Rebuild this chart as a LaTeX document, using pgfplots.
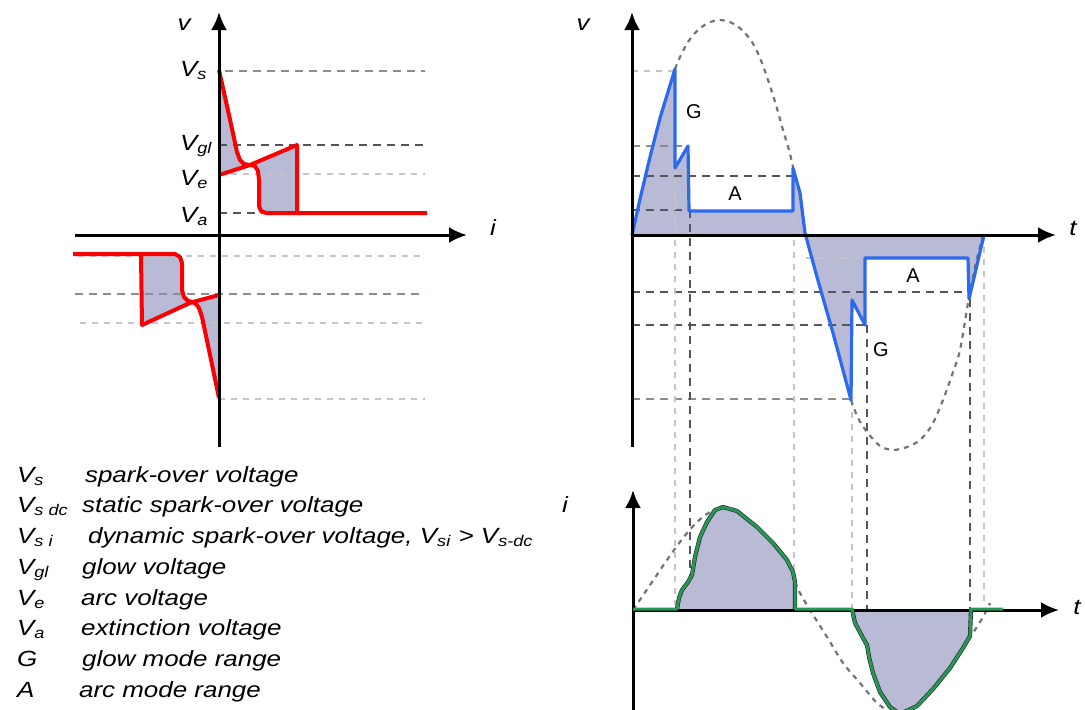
\documentclass[border=0pt]{standalone}
\usepackage{pgfplots}
\pgfplotsset{compat=1.18}
\usetikzlibrary{arrows.meta}
\usepackage{fontspec}
\setmainfont{Liberation Sans}
\newfontfamily\wide[FakeStretch=1.18]{Liberation Sans}

\definecolor{lav}{RGB}{184,186,214}
\definecolor{vred}{RGB}{250,0,0}
\definecolor{vblue}{RGB}{45,105,235}
\definecolor{vgreen}{RGB}{40,150,85}
\definecolor{dk}{RGB}{85,85,95}
\definecolor{md}{RGB}{140,140,150}
\definecolor{lt}{RGB}{195,195,200}
\definecolor{ev}{RGB}{115,115,125}

\tikzset{
  ax/.style={black, line width=1.5pt, -{Latex[length=9pt,width=8pt]}},
  dD/.style={dk, line width=1pt, dash pattern=on 4pt off 3pt},
  dM/.style={md, line width=0.9pt, dash pattern=on 4pt off 3pt},
  dL/.style={lt, line width=0.8pt, dash pattern=on 3pt off 3pt},
  env/.style={ev, line width=1.1pt, dash pattern=on 2.5pt off 2.5pt},
  lab/.style={font=\wide\itshape\fontsize{11pt}{13pt}\selectfont},
  leg/.style={anchor=base west, font=\wide\itshape\fontsize{11pt}{13pt}\selectfont},
}

\begin{document}
\begin{tikzpicture}
\useasboundingbox (0,0) rectangle (542.5pt,-355pt);
\begin{axis}[
  x=0.5pt, y=0.5pt, y dir=reverse,
  xmin=0, xmax=1085, ymin=0, ymax=710,
  hide axis, anchor=north west, at={(0,0)},
]
% ---------- left panel: v-i characteristic ----------
\addplot[fill=lav, draw=none] coordinates {(219,70) (229,115) (237,152) (240,160) (244,164) (250,165) (219,175)} -- cycle;
\addplot[fill=lav, draw=none] coordinates {(250,165) (297,145) (297,213) (266,213) (261,211) (259,206) (259,180) (258,171) (255,166)} -- cycle;
\addplot[fill=lav, draw=none] coordinates {(219,295) (193,302) (196,304) (199,308) (202,317) (209,350) (219,398)} -- cycle;
\addplot[fill=lav, draw=none] coordinates {(193,302) (142,325) (141,255) (175,255) (180,257) (182,263) (182,290) (184,297) (188,301)} -- cycle;

\addplot[dM] coordinates {(225,71) (425,71)};
\addplot[dD] coordinates {(219,145) (425,145)};
\addplot[dL] coordinates {(219,174) (425,174)};
\addplot[dD] coordinates {(219,213) (262,213)};
\addplot[dL] coordinates {(78,256) (425,256)};
\addplot[dM] coordinates {(75,294) (425,294)};
\addplot[dL] coordinates {(80,323) (425,323)};
\addplot[dL] coordinates {(219,399) (425,399)};

\addplot[vred, line width=2pt, line join=round] coordinates {(219,70) (229,115) (237,152) (240,160) (244,164) (250,165) (297,145) (297,213) (427,213)};
\addplot[vred, line width=2pt, line join=round] coordinates {(219,175) (250,165) (255,166) (258,171) (259,180) (259,206) (261,211) (266,213) (300,213)};
\addplot[vred, line width=2pt, line join=round] coordinates {(73,254) (175,254) (180,257) (182,263) (182,290) (184,297) (188,301) (193,302) (219,295)};
\addplot[vred, line width=2pt, line join=round] coordinates {(219,398) (209,350) (202,317) (199,308) (196,304) (192,302) (142,325) (141,256) (141,254)};

\addplot[ax] coordinates {(219,447) (219,12)};
\addplot[ax] coordinates {(75,235) (467,235)};

\node[lab] at (axis cs:184,25) {v};
\node[lab] at (axis cs:493,228) {i};
\node[leg] at (axis cs:173,76) {V\textsubscript{s}};
\node[leg] at (axis cs:173,150) {V\textsubscript{gl}};
\node[leg] at (axis cs:173,185) {V\textsubscript{e}};
\node[leg] at (axis cs:173,222) {V\textsubscript{a}};

% ---------- right top panel: v(t) ----------
\addplot[fill=lav, draw=none] coordinates {(632,235) (640,199) (649,161) (660,118) (675,69) (675,168) (688,146) (689,211) (793,211) (793,168) (800,193) (805,235)} -- cycle;
\addplot[fill=lav, draw=none] coordinates {(805,235) (817,277) (833,333) (851,400) (852,300) (865,325) (865,258) (968,258) (969,299) (984,235)} -- cycle;

\addplot[dL] coordinates {(632,71) (675,71)};
\addplot[dM] coordinates {(632,146) (688,146)};
\addplot[dD] coordinates {(632,176) (793,176)};
\addplot[dD] coordinates {(632,210) (689,210)};
\addplot[dL] coordinates {(806,258) (866,258)};
\addplot[dD] coordinates {(632,292) (968,292)};
\addplot[dD] coordinates {(632,325) (866,325)};
\addplot[dM] coordinates {(632,399) (851,399)};

\addplot[dL] coordinates {(675,168) (675,605)};
\addplot[dD] coordinates {(690,210) (690,607)};
\addplot[dL] coordinates {(794,168) (794,585)};
\addplot[dL] coordinates {(852,400) (852,610)};
\addplot[dD] coordinates {(867,325) (867,610)};
\addplot[dD] coordinates {(970,299) (970,610)};
\addplot[dL] coordinates {(984,235) (984,605)};

\addplot[env, smooth] coordinates {(675,69) (680,57) (688,42) (697,31) (708,23) (720,20) (732,23) (742,30) (752,42) (760,58) (768,80) (776,105) (783,130) (789,150) (793,167)};
\addplot[env, smooth] coordinates {(851,400) (858,418) (867,432) (880,446) (893,450) (907,447) (920,440) (932,425) (943,400) (952,375) (960,350) (968,303) (975,267) (983,235)};

\addplot[vblue, line width=1.6pt, line join=round] coordinates {(632,235) (640,199) (649,161) (660,118) (675,69) (675,168) (688,146) (689,211) (793,211) (793,168) (800,193) (805,233) (817,277) (833,333) (851,400) (852,300) (865,325) (865,258) (968,258) (969,299) (984,235)};

\addplot[ax] coordinates {(632,447) (632,12)};
\addplot[ax] coordinates {(632,235) (1056,235)};

\node[lab] at (axis cs:583,25) {v};
\node[lab] at (axis cs:1073,228) {t};
\node[font=\fontsize{10pt}{12pt}\selectfont] at (axis cs:694,112) {G};
\node[font=\fontsize{10pt}{12pt}\selectfont] at (axis cs:735,194) {A};
\node[font=\fontsize{10pt}{12pt}\selectfont] at (axis cs:913,276) {A};
\node[font=\fontsize{10pt}{12pt}\selectfont] at (axis cs:881,350) {G};

% ---------- right bottom panel: i(t) ----------
\addplot[fill=lav, draw=none] coordinates {(677,610) (679,598) (682,590) (688,582) (692,575) (695,557) (700,537) (707,522) (715,510) (723,507) (737,511) (757,527) (773,543) (787,560) (793,572) (795,582) (795,610)} -- cycle;
\addplot[fill=lav, draw=none] coordinates {(852,610) (855,623) (863,638) (867,645) (869,657) (873,673) (880,692) (890,707) (900,714) (917,706) (933,689) (950,668) (963,648) (970,636) (971,610)} -- cycle;

\addplot[env, smooth] coordinates {(633,610) (650,585) (667,560) (683,538) (697,522) (710,512) (720,508)};
\addplot[env, smooth] coordinates {(795,582) (800,593) (810,610) (827,637) (843,663) (860,683) (877,703) (890,712)};
\addplot[env, smooth] coordinates {(963,648) (973,633) (983,617) (990,603)};

\addplot[ax] coordinates {(633,712) (633,490)};
\addplot[ax] coordinates {(633,610) (1059,610)};

\addplot[black!85, line width=2.1pt, line join=round] coordinates {(677,609) (679,598) (682,590) (688,582) (692,575) (695,557) (700,537) (707,522) (715,510) (723,507) (737,511) (757,527) (773,543) (787,560) (793,572) (795,582) (795,609)};
\addplot[black!85, line width=2.1pt, line join=round] coordinates {(852,609) (855,623) (863,638) (867,645) (869,657) (873,673) (880,692) (890,707) (900,714) (917,706) (933,689) (950,668) (963,648) (970,636) (971,609)};
\addplot[vgreen, line width=1.5pt, line join=round] coordinates {(633,609) (677,609) (679,598) (682,590) (688,582) (692,575) (695,557) (700,537) (707,522) (715,510) (723,507) (737,511) (757,527) (773,543) (787,560) (793,572) (795,582) (795,609) (852,609) (855,623) (863,638) (867,645) (869,657) (873,673) (880,692) (890,707) (900,714) (917,706) (933,689) (950,668) (963,648) (970,636) (971,609) (1003,609)};

\node[lab] at (axis cs:565,505) {i};
\node[lab] at (axis cs:1077,607) {t};

% ---------- key ----------
\node[leg] at (axis cs:10,482) {V\textsubscript{s}};
\node[leg] at (axis cs:78,482) {spark-over voltage};
\node[leg] at (axis cs:10,512) {V\textsubscript{s dc}};
\node[leg] at (axis cs:75,512) {static spark-over voltage};
\node[leg] at (axis cs:10,543) {V\textsubscript{s i}};
\node[leg] at (axis cs:81,543) {dynamic spark-over voltage, V\textsubscript{si} > V\textsubscript{s-dc}};
\node[leg] at (axis cs:10,574) {V\textsubscript{gl}};
\node[leg] at (axis cs:75,574) {glow voltage};
\node[leg] at (axis cs:10,605) {V\textsubscript{e}};
\node[leg] at (axis cs:74,605) {arc voltage};
\node[leg] at (axis cs:10,635) {V\textsubscript{a}};
\node[leg] at (axis cs:74,635) {extinction voltage};
\node[leg] at (axis cs:10,666) {G};
\node[leg] at (axis cs:75,666) {glow mode range};
\node[leg] at (axis cs:10,697) {A};
\node[leg] at (axis cs:72,697) {arc mode range};
\end{axis}
\end{tikzpicture}
\end{document}
